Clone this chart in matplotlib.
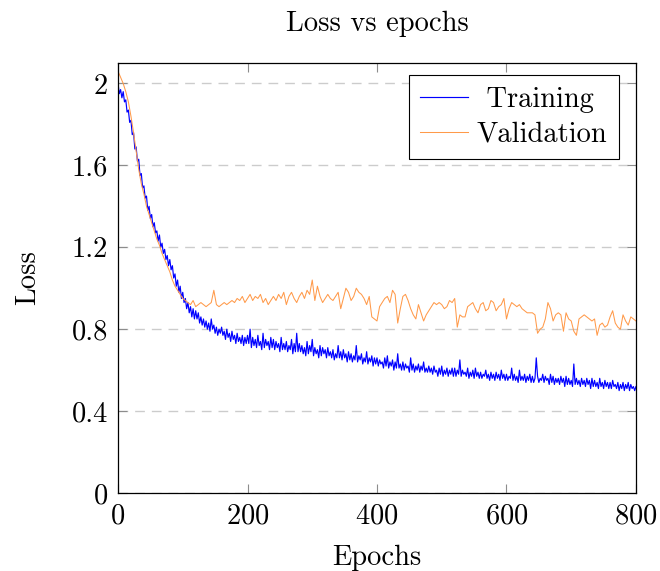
import numpy as np
import matplotlib
matplotlib.use("Agg")
import matplotlib.pyplot as plt

plt.rcParams["font.family"] = "cmr10"
plt.rcParams["axes.formatter.use_mathtext"] = True
plt.rcParams["font.size"] = 20.5

# values: training every 2 epochs, validation every 4
train_epochs = np.arange(0, 801, 2)
val_epochs = np.arange(0, 801, 4)

training = [
    2.00, 1.95, 1.97, 1.93, 1.96, 1.91, 1.92, 1.86, 1.87, 1.81, 1.82, 1.75, 1.76, 1.68, 1.69, 1.62, 1.63, 1.55, 1.56, 1.49,
    1.50, 1.44, 1.45, 1.38, 1.40, 1.34, 1.36, 1.30, 1.32, 1.27, 1.28, 1.23, 1.26, 1.20, 1.22, 1.17, 1.19, 1.14, 1.16, 1.11,
    1.14, 1.09, 1.11, 1.05, 1.07, 1.01, 1.04, 0.98, 1.01, 0.95, 0.98, 0.93, 0.95, 0.90, 0.93, 0.88, 0.91, 0.86, 0.90, 0.85,
    0.89, 0.85, 0.88, 0.83, 0.86, 0.82, 0.85, 0.81, 0.84, 0.80, 0.83, 0.79, 0.85, 0.80, 0.82, 0.78, 0.81, 0.77, 0.80, 0.78,
    0.81, 0.77, 0.79, 0.75, 0.80, 0.76, 0.78, 0.74, 0.79, 0.75, 0.77, 0.73, 0.78, 0.74, 0.76, 0.73, 0.77, 0.72, 0.76, 0.73,
    0.77, 0.73, 0.80, 0.71, 0.76, 0.72, 0.75, 0.71, 0.77, 0.72, 0.74, 0.70, 0.78, 0.71, 0.75, 0.72, 0.74, 0.70, 0.76, 0.71,
    0.75, 0.70, 0.74, 0.71, 0.73, 0.69, 0.76, 0.70, 0.73, 0.70, 0.74, 0.69, 0.72, 0.70, 0.75, 0.68, 0.73, 0.69, 0.78, 0.69,
    0.73, 0.69, 0.72, 0.68, 0.71, 0.67, 0.74, 0.68, 0.72, 0.69, 0.75, 0.67, 0.71, 0.68, 0.70, 0.66, 0.72, 0.67, 0.71, 0.68,
    0.70, 0.66, 0.71, 0.67, 0.69, 0.66, 0.70, 0.65, 0.68, 0.66, 0.72, 0.66, 0.69, 0.65, 0.70, 0.66, 0.68, 0.64, 0.69, 0.65,
    0.68, 0.64, 0.67, 0.65, 0.72, 0.64, 0.67, 0.65, 0.68, 0.63, 0.66, 0.64, 0.69, 0.63, 0.66, 0.64, 0.67, 0.62, 0.66, 0.63,
    0.66, 0.62, 0.65, 0.63, 0.64, 0.61, 0.66, 0.62, 0.67, 0.61, 0.64, 0.62, 0.65, 0.60, 0.64, 0.61, 0.68, 0.61, 0.63, 0.60,
    0.64, 0.60, 0.63, 0.61, 0.62, 0.59, 0.66, 0.60, 0.63, 0.59, 0.62, 0.60, 0.63, 0.59, 0.62, 0.60, 0.64, 0.59, 0.61, 0.59,
    0.62, 0.59, 0.61, 0.58, 0.62, 0.59, 0.60, 0.57, 0.61, 0.58, 0.62, 0.57, 0.60, 0.58, 0.61, 0.57, 0.60, 0.58, 0.61, 0.57,
    0.61, 0.57, 0.60, 0.58, 0.65, 0.57, 0.60, 0.58, 0.59, 0.57, 0.61, 0.56, 0.59, 0.57, 0.60, 0.56, 0.61, 0.57, 0.59, 0.56,
    0.59, 0.56, 0.58, 0.57, 0.60, 0.56, 0.58, 0.55, 0.59, 0.56, 0.58, 0.55, 0.59, 0.56, 0.58, 0.55, 0.60, 0.56, 0.58, 0.55,
    0.58, 0.55, 0.57, 0.56, 0.61, 0.55, 0.58, 0.55, 0.57, 0.54, 0.60, 0.55, 0.57, 0.55, 0.58, 0.54, 0.57, 0.55, 0.58, 0.54,
    0.57, 0.54, 0.56, 0.66, 0.57, 0.54, 0.56, 0.55, 0.58, 0.54, 0.57, 0.55, 0.56, 0.53, 0.58, 0.54, 0.57, 0.53, 0.56, 0.54,
    0.56, 0.53, 0.57, 0.54, 0.56, 0.52, 0.57, 0.53, 0.56, 0.53, 0.55, 0.52, 0.63, 0.53, 0.56, 0.53, 0.55, 0.52, 0.56, 0.53,
    0.55, 0.52, 0.56, 0.53, 0.55, 0.51, 0.56, 0.52, 0.55, 0.52, 0.54, 0.51, 0.56, 0.52, 0.54, 0.51, 0.55, 0.52, 0.54, 0.51,
    0.54, 0.51, 0.55, 0.52, 0.53, 0.51, 0.54, 0.50, 0.53, 0.51, 0.54, 0.50, 0.53, 0.51, 0.54, 0.50, 0.53, 0.51, 0.52, 0.50,
    0.52,
]

validation = [
    2.06, 2.03, 2.00, 1.96, 1.91, 1.84, 1.76, 1.67, 1.58, 1.51,
    1.46, 1.40, 1.36, 1.32, 1.28, 1.24, 1.21, 1.17, 1.14, 1.11,
    1.08, 1.04, 1.01, 0.99, 0.97, 0.95, 0.94, 0.93, 0.92, 0.94,
    0.91, 0.92, 0.93, 0.92, 0.91, 0.92, 0.93, 0.99, 0.92, 0.91,
    0.92, 0.93, 0.92, 0.93, 0.94, 0.93, 0.95, 0.94, 0.96, 0.93,
    0.95, 0.97, 0.94, 0.96, 0.95, 0.97, 0.93, 0.95, 0.92, 0.94,
    0.96, 0.94, 0.97, 0.95, 0.98, 0.92, 0.96, 0.98, 0.95, 0.93,
    0.96, 0.98, 0.95, 0.99, 0.97, 1.04, 0.94, 1.01, 0.96, 0.93,
    0.95, 0.97, 0.95, 0.94, 0.96, 0.98, 0.90, 0.95, 1.00, 0.98,
    0.94, 0.96, 1.00, 0.98, 0.97, 0.95, 0.92, 0.96, 0.86, 0.85,
    0.84, 0.91, 0.93, 0.95, 0.96, 0.93, 0.99, 0.97, 0.83, 0.90,
    0.96, 0.97, 0.94, 0.90, 0.87, 0.85, 0.92, 0.88, 0.84, 0.87,
    0.89, 0.91, 0.93, 0.92, 0.93, 0.92, 0.90, 0.91, 0.94, 0.93,
    0.95, 0.81, 0.87, 0.86, 0.86, 0.91, 0.92, 0.93, 0.90, 0.88,
    0.92, 0.93, 0.89, 0.90, 0.94, 0.93, 0.89, 0.91, 0.92, 0.95,
    0.85, 0.90, 0.93, 0.92, 0.91, 0.92, 0.90, 0.89, 0.88, 0.88,
    0.88, 0.87, 0.78, 0.80, 0.81, 0.85, 0.93, 0.90, 0.84, 0.87,
    0.88, 0.87, 0.79, 0.88, 0.85, 0.84, 0.79, 0.77, 0.85, 0.86,
    0.87, 0.86, 0.85, 0.84, 0.85, 0.77, 0.82, 0.83, 0.81, 0.82,
    0.86, 0.89, 0.83, 0.81, 0.80, 0.87, 0.84, 0.82, 0.86, 0.85,
    0.84,
]

x_ticks = [0, 200, 400, 600, 800]
y_ticks = [0, 0.4, 0.8, 1.2, 1.6, 2.0]
y_tick_labels = ["0", "0.4", "0.8", "1.2", "1.6", "2"]

fig = plt.figure(figsize=(6.6, 5.71), dpi=100)
ax = fig.add_axes([0.1788, 0.1366, 0.7848, 0.7531])

ax.plot(train_epochs, training, color="#0000ff", lw=0.85, label=" Training")
ax.plot(val_epochs, validation, color="#ff9a4a", lw=0.75, label="Validation")

ax.set_xlim(0, 800)
ax.set_ylim(0, 2.1)
ax.set_xticks(x_ticks)
ax.set_yticks(y_ticks)
ax.set_yticklabels(y_tick_labels)

ax.grid(axis="y", color="#cccccc", lw=1.0, linestyle=(0, (7, 5)))
ax.set_axisbelow(True)

ax.tick_params(direction="in", length=6.5, width=0.8, color="0.55",
               top=True, right=True, pad=7)
for s in ax.spines.values():
    s.set_linewidth(0.9)
    s.set_color("black")

ax.set_title("Loss vs epochs", fontsize=20.5, pad=23)
ax.set_xlabel("Epochs", labelpad=11)
ax.set_ylabel("Loss", labelpad=22)

leg = ax.legend(loc="upper right", bbox_to_anchor=(0.967, 0.972),
                borderaxespad=0, fancybox=False, framealpha=1,
                edgecolor="black", handlelength=1.7, handletextpad=0.3,
                labelspacing=0.3, borderpad=0.4)
leg.get_frame().set_linewidth(0.8)

fig.savefig("out.png", dpi=100)
